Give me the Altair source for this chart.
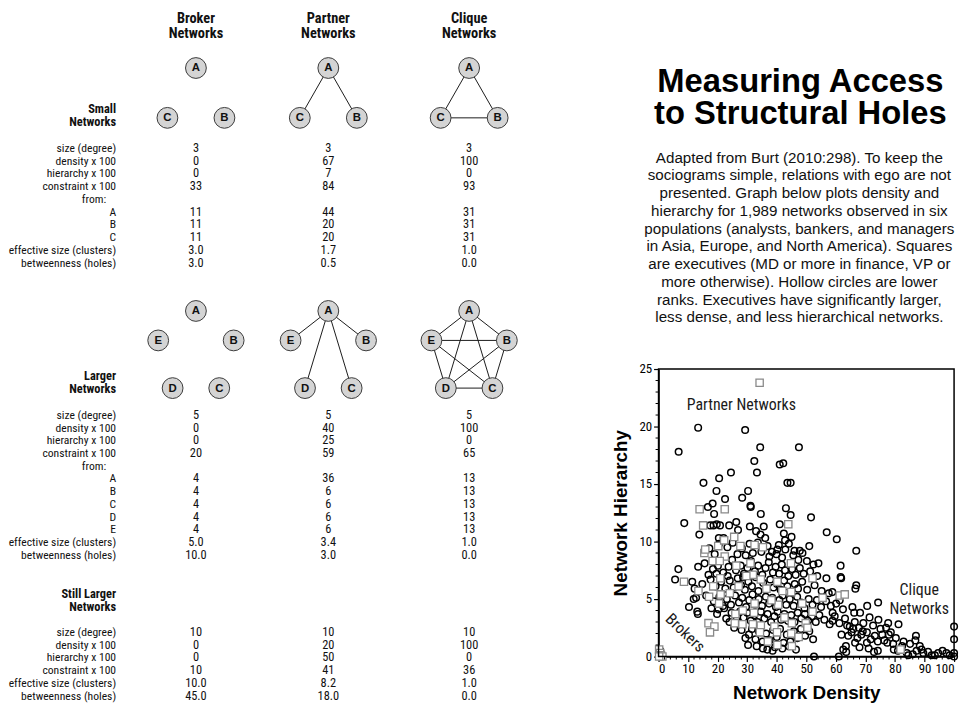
import math
import itertools
import altair as alt
import pandas as pd

# ============================ DATA ============================
COL_NAMES = ["Broker", "Partner", "Clique"]
COL_SUB = ["Networks", "Networks", "Networks"]

SECTION_SMALL = ["Small", "Networks"]
SECTION_LARGER = ["Larger", "Networks"]
SECTION_STILL = ["Still Larger", "Networks"]

SMALL_LABELS = ["size (degree)", "density x 100", "hierarchy x 100", "constraint x 100",
                "from:", "A", "B", "C", "effective size (clusters)", "betweenness (holes)"]
SMALL_BROKER = ["3", "0", "0", "33", "", "11", "11", "11", "3.0", "3.0"]
SMALL_PARTNER = ["3", "67", "7", "84", "", "44", "20", "20", "1.7", "0.5"]
SMALL_CLIQUE = ["3", "100", "0", "93", "", "31", "31", "31", "1.0", "0.0"]

LARGER_LABELS = ["size (degree)", "density x 100", "hierarchy x 100", "constraint x 100",
                 "from:", "A", "B", "C", "D", "E", "effective size (clusters)", "betweenness (holes)"]
LARGER_BROKER = ["5", "0", "0", "20", "", "4", "4", "4", "4", "4", "5.0", "10.0"]
LARGER_PARTNER = ["5", "40", "25", "59", "", "36", "6", "6", "6", "6", "3.4", "3.0"]
LARGER_CLIQUE = ["5", "100", "0", "65", "", "13", "13", "13", "13", "13", "1.0", "0.0"]

STILL_LABELS = ["size (degree)", "density x 100", "hierarchy x 100", "constraint x 100",
                "effective size (clusters)", "betweenness (holes)"]
STILL_BROKER = ["10", "0", "0", "10", "10.0", "45.0"]
STILL_PARTNER = ["10", "20", "50", "41", "8.2", "18.0"]
STILL_CLIQUE = ["10", "100", "0", "36", "1.0", "0.0"]

SMALL_NODES = ["A", "B", "C"]
LARGER_NODES = ["A", "B", "C", "D", "E"]
BROKER_EDGES = []
PARTNER_SMALL_EDGES = [("A", "B"), ("A", "C")]
PARTNER_LARGER_EDGES = [("A", "B"), ("A", "C"), ("A", "D"), ("A", "E")]
CLIQUE_SMALL_EDGES = list(itertools.combinations(SMALL_NODES, 2))
CLIQUE_LARGER_EDGES = list(itertools.combinations(LARGER_NODES, 2))

TITLE_LINES = ["Measuring Access", "to Structural Holes"]
NOTE_LINES = [
    "Adapted from Burt (2010:298). To keep the",
    "sociograms simple, relations with ego are not",
    "presented.  Graph below plots density and",
    "hierarchy for 1,989 networks observed in six",
    "populations (analysts, bankers, and managers",
    "in Asia, Europe, and North America).  Squares",
    "are executives (MD or more in finance, VP or",
    "more otherwise).  Hollow circles are lower",
    "ranks.  Executives have significantly larger,",
    "less dense, and less hierarchical networks.",
]

X_TITLE = "Network Density"
Y_TITLE = "Network Hierarchy"
X_TICKS = [0, 10, 20, 30, 40, 50, 60, 70, 80, 90, 100]
Y_TICKS = [0, 5, 10, 15, 20, 25]
ANNOT_TEXT = ["Partner Networks", "Clique", "Networks", "Brokers"]

# lower ranks (hollow circles): (density, hierarchy)
LOWER_RANKS = [
    (13.4, 19.9), (29.3, 19.7), (6.8, 17.8), (34.4, 18.2), (47.5, 18.2), (32.4, 17.0),
    (41.0, 16.7), (42.2, 16.8), (24.5, 16.0), (33.3, 16.0), (20.5, 15.5), (15.2, 15.1),
    (43.6, 15.1), (44.7, 15.1), (30.3, 14.4), (19.6, 14.4), (28.3, 13.8), (22.5, 13.7),
    (18.3, 13.3), (31.1, 13.1), (31.2, 13.0), (16.7, 13.0), (43.1, 12.9), (18.8, 12.4),
    (34.6, 12.4), (44.7, 12.3), (51.6, 12.1), (8.7, 11.6), (17.5, 11.4), (18.6, 11.4),
    (19.7, 11.5), (20.8, 11.4), (23.9, 11.4), (26.3, 11.7), (30.9, 11.3), (35.6, 11.3),
    (41.0, 11.5), (42.4, 10.7), (45.0, 10.4), (42.8, 10.1), (26.9, 11.0), (33.0, 10.9),
    (34.5, 10.6), (36.1, 10.3), (13.8, 10.6), (20.4, 10.3), (22.0, 10.3), (56.9, 10.8),
    (60.3, 10.2), (66.9, 9.2), (51.0, 9.6), (46.0, 9.2), (47.8, 9.2), (40.2, 9.3),
    (6.7, 7.6), (5.6, 6.7), (11.4, 6.5), (61.6, 7.9), (61.6, 6.9), (61.8, 6.8),
    (56.8, 6.8), (66.9, 6.2), (66.6, 5.9), (58.8, 5.6), (61.3, 4.9), (70.6, 4.4),
    (74.3, 4.7), (65.6, 4.3), (66.2, 3.8), (68.2, 3.8), (58.9, 3.8), (58.9, 3.1),
    (71.4, 3.4), (74.4, 3.2), (77.7, 2.9), (81.2, 2.8), (77.0, 2.5), (63.8, 2.7),
    (65.3, 2.1), (61.9, 1.9), (70.5, 2.1), (68.6, 1.9), (73.2, 1.8), (75.7, 1.9),
    (77.9, 1.9), (87.1, 1.8), (86.9, 1.4), (66.5, 1.2), (70.5, 1.2), (74.2, 1.3),
    (77.4, 1.2), (79.4, 1.1), (82.4, 0.9), (84.0, 0.3), (84.5, 0.1), (63.4, 0.9),
    (63.5, 0.4), (71.1, 0.7), (74.2, 0.5), (79.6, 0.6), (87.3, 0.5), (89.0, 0.6),
    (89.6, 0.3), (93.5, 0.1), (94.6, 0.3), (96.1, 0.5), (97.4, 0.3), (98.5, 0.1),
    (100.0, 2.6), (100.0, 1.5), (100.0, 0.3), (100.0, 0.0), (52.6, 0.0), (61.0, 0.0),
    (30.3, 1.0), (30.6, 1.9), (35.3, 0.7), (38.6, 0.5), (10.3, 4.3), (12.7, 5.1),
    (13.1, 3.9), (13.3, 3.7), (17.9, 4.2), (20.3, 4.1), (22.2, 4.2), (24.0, 3.0),
    (25.6, 2.5), (0.3, 0.3), (0.6, 0.5),
    (20.5, 9.8), (23.3, 9.5), (25.1, 9.9), (28.2, 9.4), (30.8, 9.8), (33.6, 9.9),
    (36.9, 9.6), (38.4, 9.1), (40.7, 9.7), (42.9, 9.3), (44.1, 9.8), (48.7, 9.0),
    (17.2, 9.4), (19.0, 8.9), (26.7, 8.9), (29.5, 8.8), (31.9, 9.0), (34.8, 9.1),
    (37.5, 8.7), (39.9, 8.9), (41.8, 8.6), (45.6, 8.8), (47.3, 8.4), (50.2, 8.3),
    (52.4, 8.0), (54.1, 8.1),
    (15.6, 8.1), (18.4, 7.6), (20.1, 7.9), (21.9, 7.3), (23.7, 7.8), (24.9, 8.4),
    (26.2, 7.5), (27.8, 7.9), (28.9, 7.2), (30.1, 7.7), (31.3, 8.3), (32.6, 7.4),
    (33.7, 7.9), (35.1, 7.1), (36.2, 7.7), (37.3, 8.2), (38.7, 7.3), (39.6, 7.8),
    (40.8, 7.2), (41.7, 8.0), (42.8, 7.5), (43.9, 7.0), (45.2, 7.6), (46.4, 7.1),
    (47.8, 7.7), (49.1, 7.2), (51.3, 7.4), (53.7, 7.0), (13.4, 7.8), (16.9, 7.1),
    (19.6, 7.2),
    (14.8, 6.3), (17.6, 6.7), (19.3, 6.1), (21.2, 6.5), (22.6, 5.9), (24.1, 6.6),
    (25.4, 6.0), (26.8, 6.8), (27.9, 6.2), (29.2, 5.8), (30.4, 6.5), (31.6, 6.1),
    (32.9, 6.9), (33.8, 5.7), (35.4, 6.4), (36.6, 5.9), (37.8, 6.7), (38.9, 6.0),
    (40.1, 6.3), (41.3, 5.8), (42.5, 6.6), (43.6, 6.1), (44.8, 5.6), (46.1, 6.3),
    (47.2, 5.9), (48.6, 6.5), (50.3, 5.8), (52.8, 6.2), (55.2, 5.7), (57.6, 5.5),
    (12.2, 5.9), (23.4, 7.0), (28.6, 6.9),
    (11.9, 5.0), (16.1, 5.3), (18.7, 4.8), (20.6, 5.2), (21.8, 4.4), (23.1, 5.0),
    (24.5, 4.5), (25.9, 5.3), (27.2, 4.7), (28.3, 5.1), (29.6, 4.3), (30.7, 4.9),
    (31.8, 5.4), (32.7, 4.5), (33.9, 5.0), (35.0, 4.4), (36.3, 5.2), (37.4, 4.6),
    (38.5, 5.1), (39.7, 4.3), (40.9, 4.9), (42.0, 5.3), (43.2, 4.5), (44.4, 5.0),
    (45.7, 4.4), (46.9, 5.2), (48.2, 4.7), (49.4, 4.2), (50.8, 5.0), (52.1, 4.5),
    (53.6, 4.9), (55.0, 4.3), (56.7, 4.8), (58.3, 4.4), (60.1, 4.6), (62.4, 4.1),
    (19.8, 3.7), (22.9, 3.3), (24.7, 3.8), (26.4, 3.2), (27.6, 3.9), (28.8, 3.4),
    (30.0, 3.8), (31.2, 3.1), (32.4, 3.6), (33.5, 3.0), (34.6, 3.9), (35.8, 3.3),
    (36.9, 3.7), (38.1, 3.0), (39.2, 3.5), (40.3, 3.9), (41.5, 3.2), (42.6, 3.7),
    (43.8, 3.1), (44.9, 3.6), (46.0, 3.0), (47.1, 3.8), (48.3, 3.3), (49.5, 3.7),
    (50.6, 3.1), (51.9, 3.5), (53.2, 3.0), (54.4, 3.6), (56.1, 3.2), (57.9, 2.8),
    (59.6, 3.5), (61.2, 2.9), (63.1, 3.3), (64.7, 2.6), (66.4, 3.0), (67.8, 2.5),
    (69.3, 2.9), (72.6, 2.7), (75.1, 2.4),
    (28.1, 2.3), (29.4, 1.6), (31.6, 2.4), (32.8, 1.5), (33.9, 2.2), (35.2, 1.3),
    (36.4, 2.0), (37.6, 1.4), (38.8, 2.3), (40.0, 1.7), (41.1, 2.4), (42.3, 1.2),
    (43.4, 1.9), (44.6, 1.3), (45.8, 2.2), (47.0, 1.6), (48.2, 2.4), (49.6, 1.8),
    (51.0, 2.2), (52.3, 1.5), (64.2, 1.8), (65.9, 2.4), (67.3, 1.6), (69.1, 2.2),
    (71.8, 1.5), (76.4, 1.4), (78.6, 2.1), (80.3, 1.6), (82.9, 1.3), (85.1, 1.1),
    (88.4, 0.9),
    (33.2, 0.9), (36.8, 0.6), (39.4, 0.8), (41.9, 0.7), (44.1, 0.9), (46.5, 0.6),
    (62.5, 0.6), (68.0, 0.8), (72.9, 0.4), (81.0, 0.5), (86.0, 0.2), (91.2, 0.4),
    (92.4, 0.1),
]

# executives (squares): (density, hierarchy)
EXECUTIVES = [
    (34.2, 23.8), (13.9, 12.8), (22.4, 12.8), (15.1, 11.4), (43.9, 11.5), (25.6, 10.4),
    (20.2, 9.6), (22.2, 10.1), (27.7, 9.6), (32.5, 9.7), (35.3, 9.5), (15.5, 9.0),
    (15.8, 9.3), (22.4, 8.7), (18.3, 8.3), (20.7, 8.3), (26.3, 7.9), (31.1, 8.1),
    (44.8, 8.1), (31.9, 7.1), (34.6, 6.7), (8.6, 6.5), (20.9, 6.8), (29.7, 7.0),
    (52.1, 6.8), (40.2, 6.5), (13.5, 5.7), (18.5, 6.1), (21.0, 5.4), (24.1, 5.5),
    (41.9, 5.7), (44.9, 5.6), (17.1, 5.2), (55.5, 5.1), (61.3, 5.3), (63.0, 5.4),
    (32.5, 4.6), (20.5, 4.6), (40.5, 4.5), (48.6, 4.6), (26.0, 3.7), (28.5, 4.0),
    (32.3, 3.8), (52.1, 3.9), (16.9, 2.9), (18.9, 2.6), (17.4, 2.1), (25.8, 2.9),
    (28.4, 2.8), (31.9, 2.8), (34.6, 2.7), (39.2, 2.6), (45.1, 2.9), (49.8, 2.9),
    (50.4, 2.5), (34.3, 2.1), (40.1, 2.1), (44.9, 2.0), (47.4, 1.7), (37.0, 1.3),
    (40.2, 1.0), (45.1, 0.9), (81.9, 0.6), (0.2, 0.6), (0.5, 0.3), (0.8, 0.1),
    (1.3, 0.0), (0.2, 0.0), (36.5, 5.9), (38.2, 4.9), (27.1, 6.1), (42.6, 3.4),
]

# ============================ LAYOUT ============================
# Reference page coordinates are mapped into the view, whose origin is the scatter
# plot's top-left corner; y is compressed slightly so the page never scrolls.
PLOT_L, PLOT_R, PLOT_T, PLOT_B = 663, 961, 380, 677
K = 0.976
PAGE_LEFT, PAGE_RIGHT, PAGE_TOP = 7, 970, 10
SVG_H = 700

NARROW = ("Liberation Sans Narrow, Roboto Condensed, Noto Sans Condensed, "
          "Open Sans Condensed, Arial Narrow, Liberation Sans, sans-serif")
SANS = "Liberation Sans, Arial, sans-serif"

LABEL_X = 116
LABEL_SIZE = 11.7
FROM_INDENT = 10
COL_X = [196.5, 330, 472]
ROW_STEP = 13.15
SMALL_ROW0, LARGER_ROW0, STILL_ROW0 = 151.7, 427.3, 651.7
SECTION_Y = {"small": 111.7, "larger": 387.3, "still": 612.3}
SECTION_STEP = 13.4
HEADER_BASE = [22, 38.5]
HEADER_SIZE = 14.5

TRI = dict(angles=[0, 120, 240], rx=33.2, ry=34.33, cy=103.33)
PENT = dict(angles=[0, 72, 144, 216, 288], rx=40, ry=44.06, cy=364.06)

TITLE_X, TITLE_BASE = 806, [93.5, 127]
NOTE_X, NOTE_Y0, NOTE_STEP = 805, 161.7, 18.33

ANNOT_POS = [(28, 21.85), (88.2, 5.75), (88.2, 4.15), (9.0, 2.05)]

PLOT_W = PLOT_R - PLOT_L
PLOT_H = (PLOT_B - PLOT_T) * K
PAD = {"left": PLOT_L - PAGE_LEFT, "right": PAGE_RIGHT - PLOT_R,
       "top": (PLOT_T - PAGE_TOP) * K}
PAD["bottom"] = SVG_H - PAD["top"] - PLOT_H

CX = alt.Scale(domain=[PAGE_LEFT, PAGE_RIGHT],
               range=[PAGE_LEFT - PLOT_L, PAGE_RIGHT - PLOT_L])
CY = alt.Scale(domain=[PAGE_TOP, 720], range=[(PAGE_TOP - PLOT_T) * K, (720 - PLOT_T) * K])


def canvas_text(df, **mark):
    return alt.Chart(df).mark_text(**mark).encode(
        x=alt.X("x:Q", scale=CX, axis=None),
        y=alt.Y("y:Q", scale=CY, axis=None),
        text="t:N",
    )


# ---------- table text ----------
def table_frames(labels, cols, y0):
    lab, val = [], []
    for i, label in enumerate(labels):
        y = y0 + i * ROW_STEP
        lab.append({"x": LABEL_X - (FROM_INDENT if label == "from:" else 0), "y": y, "t": label})
        for j, column in enumerate(cols):
            if column[i]:
                val.append({"x": COL_X[j], "y": y, "t": column[i]})
    return lab, val


labels_rows, value_rows = [], []
for labels, cols, y0 in [
    (SMALL_LABELS, [SMALL_BROKER, SMALL_PARTNER, SMALL_CLIQUE], SMALL_ROW0),
    (LARGER_LABELS, [LARGER_BROKER, LARGER_PARTNER, LARGER_CLIQUE], LARGER_ROW0),
    (STILL_LABELS, [STILL_BROKER, STILL_PARTNER, STILL_CLIQUE], STILL_ROW0),
]:
    a, b = table_frames(labels, cols, y0)
    labels_rows += a
    value_rows += b

section_rows = []
for key, lines in [("small", SECTION_SMALL), ("larger", SECTION_LARGER), ("still", SECTION_STILL)]:
    for i, line in enumerate(lines):
        section_rows.append({"x": LABEL_X, "y": SECTION_Y[key] + i * SECTION_STEP, "t": line})

header_rows = []
for j in range(3):
    header_rows.append({"x": COL_X[j], "y": HEADER_BASE[0], "t": COL_NAMES[j]})
    header_rows.append({"x": COL_X[j], "y": HEADER_BASE[1], "t": COL_SUB[j]})

title_rows = [{"x": TITLE_X, "y": TITLE_BASE[i], "t": t} for i, t in enumerate(TITLE_LINES)]
note_rows = [{"x": NOTE_X, "y": NOTE_Y0 + i * NOTE_STEP, "t": t} for i, t in enumerate(NOTE_LINES)]

# ---------- sociograms ----------
node_rows, edge_rows = [], []
groups = [
    (SMALL_NODES, TRI, [BROKER_EDGES, PARTNER_SMALL_EDGES, CLIQUE_SMALL_EDGES]),
    (LARGER_NODES, PENT, [BROKER_EDGES, PARTNER_LARGER_EDGES, CLIQUE_LARGER_EDGES]),
]
for nodes, shape, edge_sets in groups:
    for j, edges in enumerate(edge_sets):
        pos = {}
        for n, ang in zip(nodes, shape["angles"]):
            r = math.radians(ang)
            px = COL_X[j] + shape["rx"] * math.sin(r)
            py = shape["cy"] - shape["ry"] * math.cos(r)
            pos[n] = (px, py)
            node_rows.append({"x": px, "y": py, "t": n})
        for a, b in edges:
            edge_rows.append({"x": pos[a][0], "y": pos[a][1], "x2": pos[b][0], "y2": pos[b][1]})

edges_layer = alt.Chart(pd.DataFrame(edge_rows)).mark_rule(color="#1a1a1a", strokeWidth=1).encode(
    x=alt.X("x:Q", scale=CX, axis=None), y=alt.Y("y:Q", scale=CY, axis=None),
    x2="x2:Q", y2="y2:Q")
nodes_layer = alt.Chart(pd.DataFrame(node_rows)).mark_circle(
    size=440, color="#d4d4d4", stroke="#3a3a3a", strokeWidth=1, opacity=1).encode(
    x=alt.X("x:Q", scale=CX, axis=None), y=alt.Y("y:Q", scale=CY, axis=None))
letters_layer = canvas_text(pd.DataFrame(node_rows), font=SANS, fontSize=11.5, fontWeight="bold",
                            align="center", baseline="middle", color="#111", dy=0.5)

canvas = alt.layer(
    edges_layer, nodes_layer, letters_layer,
    canvas_text(pd.DataFrame(header_rows), font=NARROW, fontSize=HEADER_SIZE, fontWeight="bold",
                align="center", baseline="alphabetic", color="#111"),
    canvas_text(pd.DataFrame(section_rows), font=NARROW, fontSize=12.5, fontWeight="bold",
                align="right", baseline="middle", color="#111"),
    canvas_text(pd.DataFrame(labels_rows), font=NARROW, fontSize=LABEL_SIZE,
                align="right", baseline="middle", color="#111"),
    canvas_text(pd.DataFrame(value_rows), font=NARROW, fontSize=12.5,
                align="center", baseline="middle", color="#111"),
    canvas_text(pd.DataFrame(title_rows), font=SANS, fontSize=33, fontWeight="bold",
                align="center", baseline="alphabetic", color="#000"),
    canvas_text(pd.DataFrame(note_rows), font=SANS, fontSize=15.3,
                align="center", baseline="middle", color="#111"),
)

# ---------- scatter ----------
SX = alt.Scale(domain=[0, 100], nice=False, zero=False)
SY = alt.Scale(domain=[0, 25], nice=False, zero=False)

x_axis = alt.Axis(orient="bottom", values=X_TICKS, title=X_TITLE,
                  grid=False, tickSize=5, tickColor="black", tickWidth=1.2,
                  domainColor="black", domainWidth=1.5, labelFont=NARROW, labelFontSize=13,
                  labelColor="black", labelPadding=1, titleFont=SANS, titleFontSize=19,
                  titleFontWeight="bold", titleColor="black", titlePadding=8)
y_axis = alt.Axis(orient="left", values=Y_TICKS, title=Y_TITLE,
                  grid=False, tickSize=5, tickColor="black", tickWidth=1.2,
                  domainColor="black", domainWidth=1.5, labelFont=NARROW, labelFontSize=13,
                  labelColor="black", labelPadding=2, titleFont=SANS, titleFontSize=19,
                  titleFontWeight="bold", titleColor="black", titlePadding=8)

low_df = pd.DataFrame(LOWER_RANKS, columns=["d", "h"])
exe_df = pd.DataFrame(EXECUTIVES, columns=["d", "h"])

frame = alt.Chart(pd.DataFrame({"d": [0], "d2": [100], "h": [0], "h2": [25]})).mark_rect(
    fillOpacity=0, stroke="black", strokeWidth=1.5).encode(
    x=alt.X("d:Q", scale=SX, axis=x_axis), x2="d2:Q",
    y=alt.Y("h:Q", scale=SY, axis=y_axis), y2="h2:Q")

x_minor = pd.DataFrame({"d": [v for v in range(2, 100, 2) if v % 10], "h": 0})
y_minor = pd.DataFrame({"h": [v for v in range(1, 25) if v % 5], "d": 0})
xminor_layer = alt.Chart(x_minor).mark_tick(orient="vertical", size=3, thickness=1,
                                            color="black", yOffset=1.5, opacity=1).encode(
    x=alt.X("d:Q", scale=SX, axis=x_axis), y=alt.Y("h:Q", scale=SY, axis=y_axis))
yminor_layer = alt.Chart(y_minor).mark_tick(orient="horizontal", size=3, thickness=1,
                                            color="black", xOffset=-1.5, opacity=1).encode(
    x=alt.X("d:Q", scale=SX, axis=x_axis), y=alt.Y("h:Q", scale=SY, axis=y_axis))

circles = alt.Chart(low_df).mark_point(shape="circle", filled=False, size=44, stroke="black",
                                       strokeWidth=1.5, opacity=1).encode(
    x=alt.X("d:Q", scale=SX, axis=x_axis), y=alt.Y("h:Q", scale=SY, axis=y_axis))
squares = alt.Chart(exe_df).mark_point(shape="square", filled=True, fill="white", size=54,
                                       stroke="#8a8a8a", strokeWidth=1.3, opacity=1).encode(
    x=alt.X("d:Q", scale=SX, axis=x_axis), y=alt.Y("h:Q", scale=SY, axis=y_axis))

annot_df = pd.DataFrame({"t": ANNOT_TEXT, "d": [p[0] for p in ANNOT_POS],
                         "h": [p[1] for p in ANNOT_POS]})


def annot_layer(rows, **mark):
    return alt.Chart(annot_df.iloc[rows]).mark_text(font=NARROW, fontSize=16, color="#1a1a1a",
                                                    align="center", baseline="middle", **mark).encode(
        x=alt.X("d:Q", scale=SX, axis=x_axis), y=alt.Y("h:Q", scale=SY, axis=y_axis), text="t:N")


scatter = alt.layer(
    circles, squares, frame, xminor_layer, yminor_layer,
    annot_layer([0, 1, 2]),
    annot_layer([3], angle=44),
)

chart = alt.layer(canvas, scatter).resolve_scale(
    x="independent", y="independent"
).properties(
    width=PLOT_W, height=PLOT_H, padding=PAD, background="white",
    autosize=alt.AutoSizeParams(type="none"),
).configure_view(stroke=None)

chart.save("out.html", embed_options={"renderer": "svg", "actions": False})
